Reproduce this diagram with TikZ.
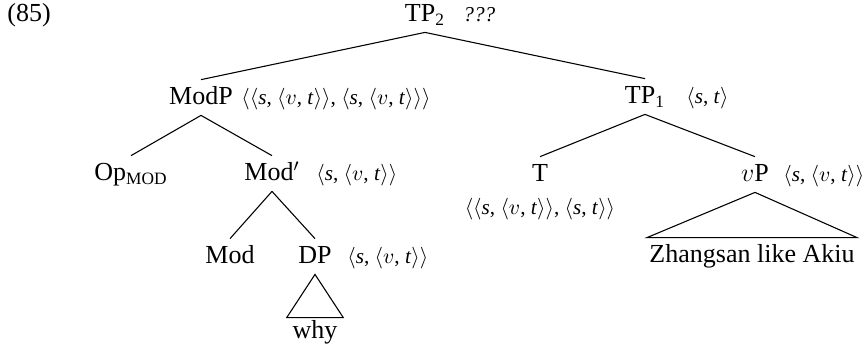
\documentclass[tikz,border=0pt]{standalone}
\usepackage{fontspec}
\setmainfont{Liberation Serif}
\newcommand{\myL}{\ensuremath{\langle}}
\newcommand{\myR}{\ensuremath{\rangle}}
\newcommand{\tyS}{\textit{s}}
\newcommand{\tyT}{\textit{t}}
\newcommand{\tyV}{\ensuremath{v}}
\begin{document}
\begin{tikzpicture}[x=0.4615pt, y=-0.4615pt,
  cat/.style={font=\fontsize{12}{14}\selectfont, text height=9.5pt, text depth=2.6pt, inner ysep=2pt, inner xsep=1pt, anchor=base},
  leaf/.style={font=\fontsize{12}{14}\selectfont, text height=9.5pt, text depth=2.6pt, anchor=base},
  ty/.style={font=\fontsize{9.8}{11}\selectfont, anchor=base west, inner sep=0pt},
  branch/.style={line width=0.5pt}]
\useasboundingbox (0,0) rectangle (866,351);
% numbering
\node[font=\fontsize{12}{14}\selectfont, anchor=base west, inner sep=0pt] (num) at (7,22) {(85)};
% categories
\node[cat] (TP2) at (425,22) {TP\textsubscript{2}};
\node[ty] (tyTP2) at (463,22) {\textit{???}};
\node[cat] (ModP) at (201,105) {ModP};
\node[ty] (tyModP) at (241,105) {\myL\myL\tyS, \myL\tyV, \tyT\myR\myR, \myL\tyS, \myL\tyV, \tyT\myR\myR\myR};
\node[cat] (TP1) at (645,104) {TP\textsubscript{1}};
\node[ty] (tyTP1) at (686,104) {\myL\tyS, \tyT\myR};
\node[cat] (Op) at (131,181) {Op\textsubscript{\fontsize{8}{9}\selectfont MOD}};
\node[cat] (Modbar) at (272,181) {Mod$'$};
\node[ty] (tyModbar) at (316,181) {\myL\tyS, \myL\tyV, \tyT\myR\myR};
\node[cat] (T) at (540,182) {T};
\node[ty, anchor=base] (tyT) at (540,215) {\myL\myL\tyS, \myL\tyV, \tyT\myR\myR, \myL\tyS, \tyT\myR\myR};
\node[cat] (vP) at (755,182) {$v$P};
\node[ty] (tyvP) at (783,182) {\myL\tyS, \myL\tyV, \tyT\myR\myR};
\node[cat] (Mod) at (230,264) {Mod};
\node[cat] (DP) at (315,264) {DP};
\node[ty] (tyDP) at (347,264) {\myL\tyS, \myL\tyV, \tyT\myR\myR};
\node[leaf, inner ysep=0.2pt, inner xsep=2.5pt] (why) at (315,339) {why};
\node[leaf, inner ysep=2pt, inner xsep=1pt] (zhang) at (752,263) {Zhangsan like Akiu};
% branches
\draw[branch] (TP2.south) -- (ModP.north);
\draw[branch] (TP2.south) -- (TP1.north);
\draw[branch] (ModP.south) -- (Op.north);
\draw[branch] (ModP.south) -- (Modbar.north);
\draw[branch] (TP1.south) -- (T.north);
\draw[branch] (TP1.south) -- (vP.north);
\draw[branch] (Modbar.south) -- (Mod.north);
\draw[branch] (Modbar.south) -- (DP.north);
\draw[branch] (DP.south) -- (why.north west) -- (why.north east) -- cycle;
\draw[branch] (vP.south) -- (zhang.north west) -- (zhang.north east) -- cycle;
\end{tikzpicture}
\end{document}
